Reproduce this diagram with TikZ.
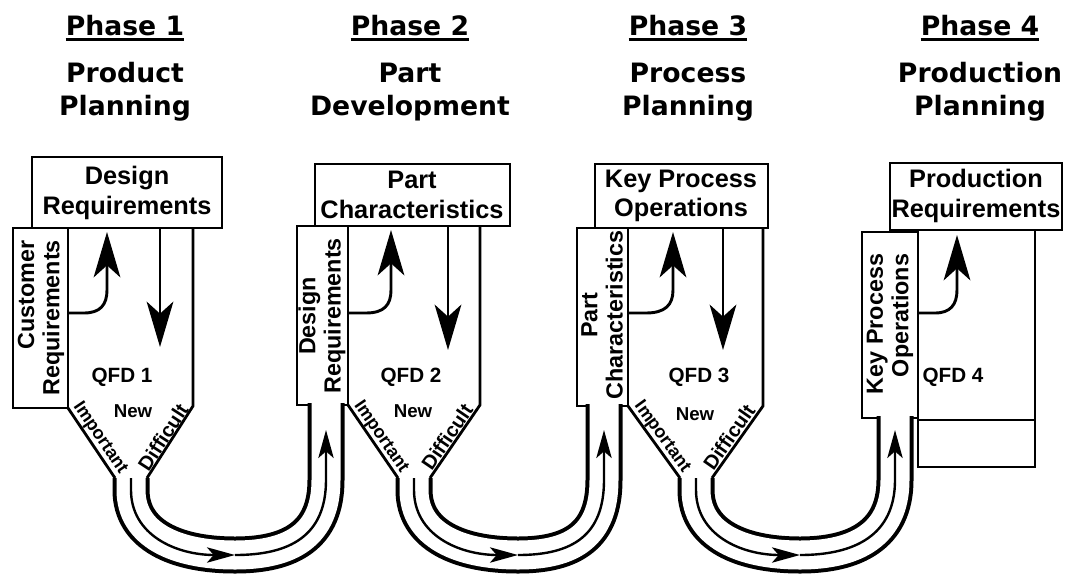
\documentclass[tikz,border=0pt]{standalone}
\usepackage{fontspec}
\setmainfont{Liberation Sans}
\newfontfamily\titlefont{DejaVu Sans}
\usetikzlibrary{arrows.meta}
\begin{document}
\begin{tikzpicture}[x=0.75pt,y=-0.75pt,
  box/.style={line width=2.1pt, line join=miter},
  tubeout/.style={line width=27.75pt, black},
  tubein/.style={line width=21.75pt, white},
  midline/.style={line width=1.8pt, -{Stealth[length=21pt,width=11.5pt,inset=5pt]}},
  bigarrow/.style={line width=2.2pt, -{Stealth[length=34pt,width=20pt,inset=9pt]}},
  ttl/.style={font=\titlefont\bfseries\fontsize{20}{24}\selectfont, anchor=base, inner sep=0pt},
  boxtxt/.style={font=\bfseries\fontsize{19}{22}\selectfont, align=center, inner sep=0pt},
  vtxt/.style={font=\bfseries\fontsize{17.5}{19}\selectfont, rotate=90, inner sep=0pt},
  qfd/.style={font=\bfseries\fontsize{15.5}{18}\selectfont, inner sep=0pt},
  newtxt/.style={font=\bfseries\fontsize{14}{16}\selectfont, inner sep=0pt},
  imptxt/.style={font=\bfseries\fontsize{13.5}{16}\selectfont, inner sep=0pt},
  diftxt/.style={font=\bfseries\fontsize{15}{16}\selectfont, inner sep=0pt},
  uline/.style={line width=1.8pt}
]
\useasboundingbox (0,0) rectangle (1070,576);

% ---------- titles ----------
\node[ttl] (ph1) at (125,35) {Phase 1};
\node[ttl] (pa1) at (125,82) {Product};
\node[ttl] (pb1) at (125,115) {Planning};
\node[ttl] (ph2) at (410,35) {Phase 2};
\node[ttl] (pa2) at (410,82) {Part};
\node[ttl] (pb2) at (410,115) {Development};
\node[ttl] (ph3) at (688,35) {Phase 3};
\node[ttl] (pa3) at (688,82) {Process};
\node[ttl] (pb3) at (688,115) {Planning};
\node[ttl] (ph4) at (980,35) {Phase 4};
\node[ttl] (pa4) at (980,82) {Production};
\node[ttl] (pb4) at (980,115) {Planning};
\foreach \p in {ph1,ph2,ph3,ph4}
  \draw[uline] ([yshift=-3.5pt]\p.base west) -- ([yshift=-3.5pt]\p.base east);

% ---------- named points ----------
% tube 1
\coordinate (s1) at (131,478); \coordinate (a1) at (131,490);
\coordinate (m1) at (235,555); \coordinate (b1) at (326,480);
\coordinate (e1) at (326,403); \coordinate (t1) at (326,430);
% tube 2
\coordinate (s2) at (414,478); \coordinate (a2) at (414,490);
\coordinate (m2) at (518,555); \coordinate (b2) at (604,480);
\coordinate (e2) at (604,404); \coordinate (t2) at (604,430);
% tube 3
\coordinate (s3) at (696,478); \coordinate (a3) at (696,490);
\coordinate (m3) at (800,555); \coordinate (b3) at (895,480);
\coordinate (e3) at (895,416); \coordinate (t3) at (895,430);

% ---------- phase 1 ----------
\draw[box] (32,157) rectangle (222,228);
\node[boxtxt] (tb1) at (127,193) {Design\\Requirements};
\draw[box] (13,228) rectangle (68,408);
\node[vtxt, align=right] (lb1) at (41,318) {Customer\\Requirements};
\draw[box] (193,228) -- (193,406) -- (147,478);
\draw[box] (68,408) -- (115,478);
\coordinate (u1s) at (68,313); \coordinate (u1t) at (107,232);
\draw[bigarrow] (u1s) -- (84,313) .. controls (100,313) and (107,305) .. (107,290) -- (u1t);
\coordinate (d1s) at (160,228); \coordinate (d1t) at (160,347);
\draw[bigarrow] (d1s) -- (d1t);

% ---------- phase 2 ----------
\draw[box] (315,164) rectangle (510,226);
\node[boxtxt] (tb2) at (412,195) {Part\\Characteristics};
\draw[box] (297,226) rectangle (348,405);
\node[vtxt, align=center] (lb2) at (322,316) {Design\\Requirements};
\draw[box] (480,226) -- (480,405) -- (430,478);
\draw[box] (348,405) -- (398,478);
\coordinate (u2s) at (348,313); \coordinate (u2t) at (391,230);
\draw[bigarrow] (u2s) -- (366,313) .. controls (384,313) and (391,305) .. (391,290) -- (u2t);
\coordinate (d2s) at (448,226); \coordinate (d2t) at (448,350);
\draw[bigarrow] (d2s) -- (d2t);

% ---------- phase 3 ----------
\draw[box] (595,164) rectangle (768,228);
\node[boxtxt] (tb3) at (681,196) {Key Process\\Operations};
\draw[box] (577,228) rectangle (628,406);
\node[vtxt, align=center] (lb3) at (602,315) {Part\\Characteristics};
\draw[box] (763,228) -- (763,406) -- (712,478);
\draw[box] (628,406) -- (680,478);
\coordinate (u3s) at (628,313); \coordinate (u3t) at (673,232);
\draw[bigarrow] (u3s) -- (646,313) .. controls (665,313) and (673,305) .. (673,290) -- (u3t);
\coordinate (d3s) at (723,228); \coordinate (d3t) at (723,350);
\draw[bigarrow] (d3s) -- (d3t);

% ---------- phase 4 ----------
\draw[box] (890,163) rectangle (1062,230);
\node[boxtxt] (tb4) at (976,196) {Production\\Requirements};
\draw[box] (862,232) rectangle (918,418);
\node[vtxt, align=right] (lb4) at (890,324) {Key Process\\Operations};
\draw[box] (918,230) -- (918,467) -- (1035,467) -- (1035,230);
\draw[box] (918,420) -- (1035,420);
\coordinate (u4s) at (918,313); \coordinate (u4t) at (957,235);
\draw[bigarrow] (u4s) -- (935,313) .. controls (950,313) and (957,305) .. (957,290) -- (u4t);

% ---------- tubes ----------
\foreach \ly in {tubeout,tubein}{
\draw[\ly] (s1) -- (a1) .. controls (131,535) and (176,555) .. (m1) .. controls (291,555) and (326,535) .. (b1) -- (e1);
\draw[\ly] (s2) -- (a2) .. controls (414,535) and (459,555) .. (m2) .. controls (573,555) and (604,535) .. (b2) -- (e2);
\draw[\ly] (s3) -- (a3) .. controls (696,535) and (741,555) .. (m3) .. controls (855,555) and (895,535) .. (b3) -- (e3);
}
\draw[midline] (s1) -- (a1) .. controls (131,535) and (176,555) .. (m1);
\draw[midline] (m1) .. controls (291,555) and (326,535) .. (b1) -- (t1);
\draw[midline] (s2) -- (a2) .. controls (414,535) and (459,555) .. (m2);
\draw[midline] (m2) .. controls (573,555) and (604,535) .. (b2) -- (t2);
\draw[midline] (s3) -- (a3) .. controls (696,535) and (741,555) .. (m3);
\draw[midline] (m3) .. controls (855,555) and (895,535) .. (b3) -- (t3);

% ---------- inner labels ----------
\node[qfd] (q1) at (122,377) {QFD 1};
\node[qfd] (q2) at (411,377) {QFD 2};
\node[qfd] (q3) at (699,377) {QFD 3};
\node[qfd] (q4) at (953,377) {QFD 4};
\node[newtxt] (n1) at (133,411) {New};
\node[newtxt] (n2) at (413,411) {New};
\node[newtxt] (n3) at (695,414) {New};
\node[imptxt, rotate=-56] (i1) at (100,438) {Important};
\node[diftxt, rotate=57] (f1) at (163,437) {Difficult};
\node[imptxt, rotate=-55.6] (i2) at (381,437) {Important};
\node[diftxt, rotate=55.6] (f2) at (447,437) {Difficult};
\node[imptxt, rotate=-54] (i3) at (662,437) {Important};
\node[diftxt, rotate=55] (f3) at (729,437) {Difficult};
\end{tikzpicture}
\end{document}
